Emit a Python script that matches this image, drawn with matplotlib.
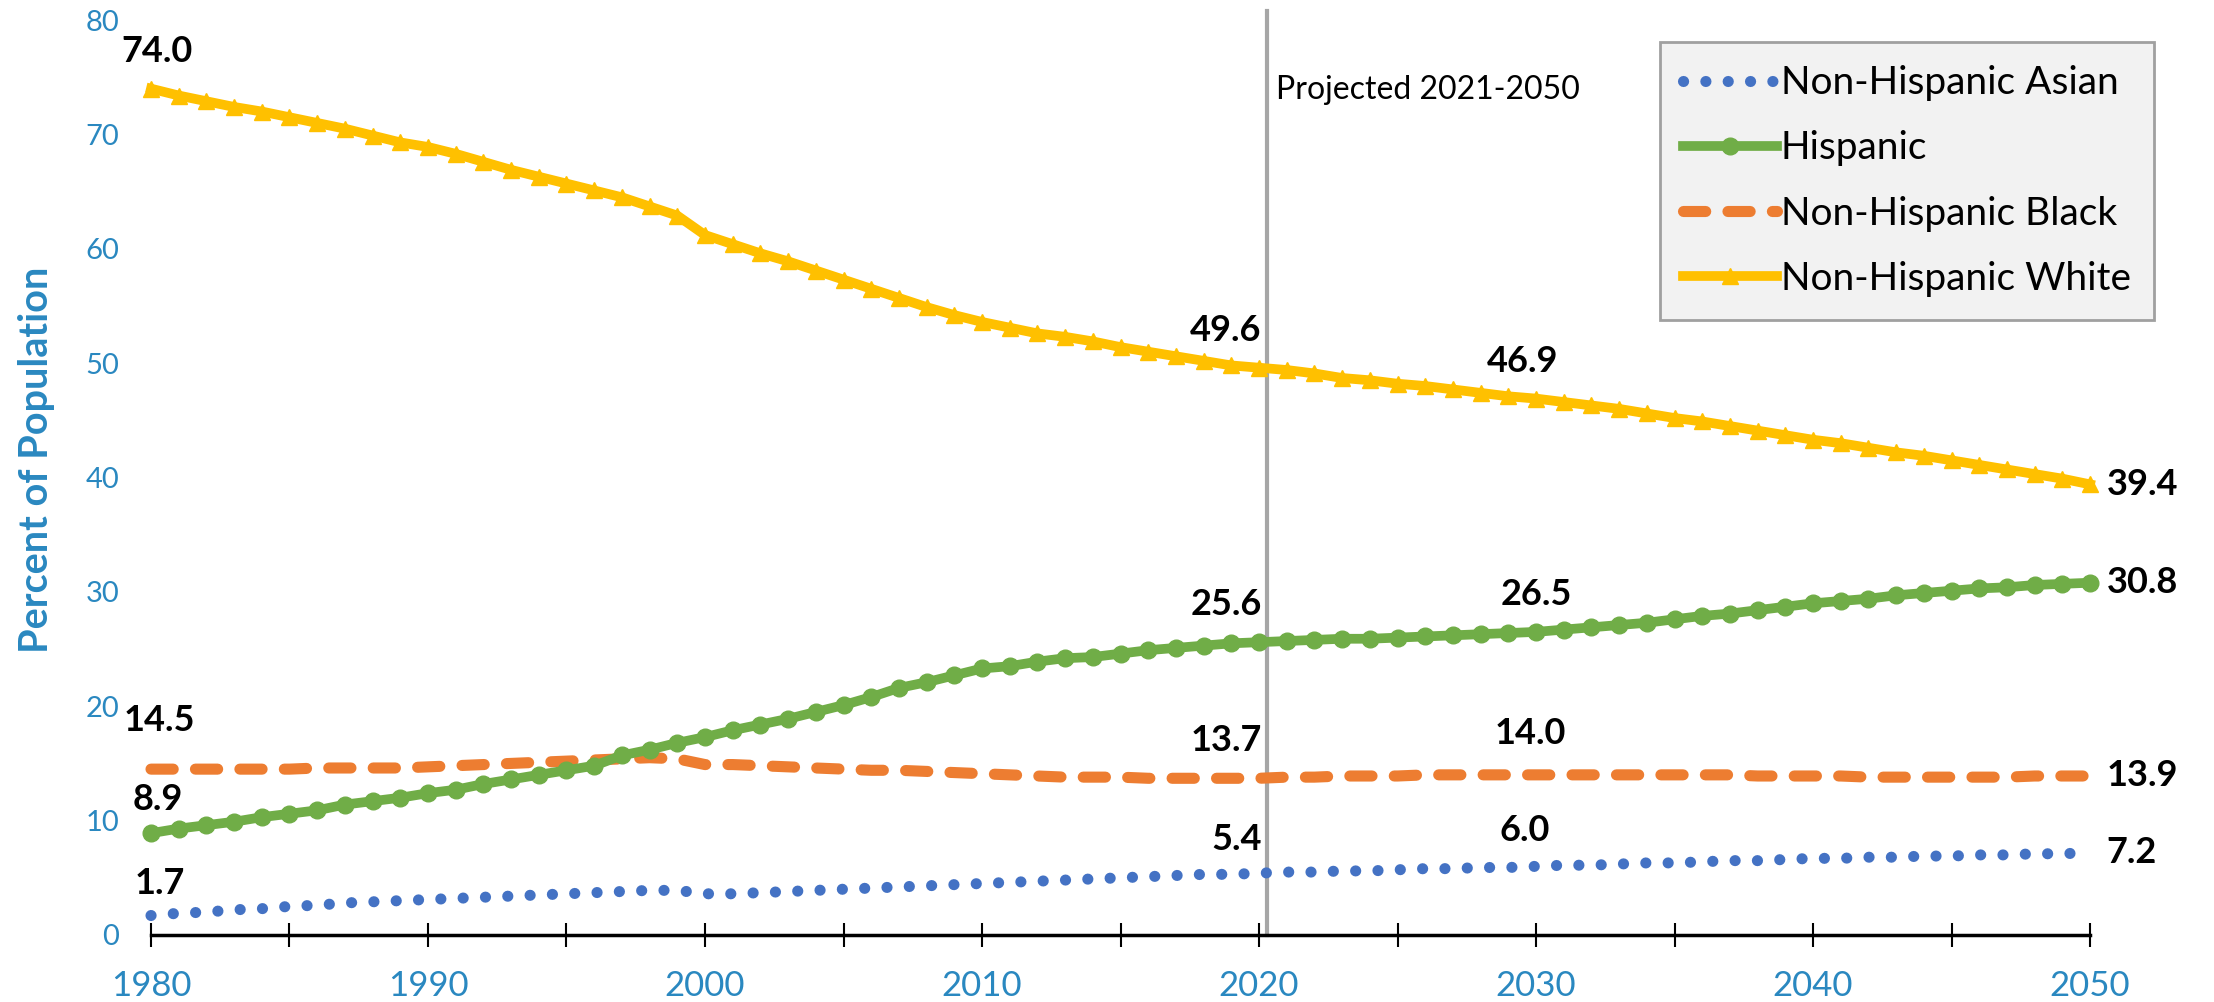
import matplotlib.pyplot as plt

plt.rcParams['font.family'] = ['Lato', 'DejaVu Sans']

# Data (percent of population)
years = list(range(1980, 2051))

asian = [1.7, 1.9, 2.0, 2.2, 2.3, 2.5, 2.6, 2.8, 2.9, 3.0,
         3.1, 3.2, 3.3, 3.4, 3.5, 3.6, 3.7, 3.8, 3.9, 3.9,
         3.6, 3.6, 3.7, 3.8, 3.9, 4.0, 4.1, 4.2, 4.3, 4.4,
         4.5, 4.6, 4.7, 4.8, 4.9, 5.0, 5.1, 5.2, 5.3, 5.3,
         5.4, 5.5, 5.5, 5.6, 5.6, 5.7, 5.8, 5.8, 5.9, 5.9,
         6.0, 6.1, 6.1, 6.2, 6.3, 6.3, 6.4, 6.5, 6.5, 6.6,
         6.7, 6.7, 6.8, 6.8, 6.9, 6.9, 7.0, 7.0, 7.1, 7.1,
         7.2]

hispanic = [8.9, 9.3, 9.6, 9.9, 10.3, 10.6, 10.9, 11.4, 11.7, 12.0,
            12.4, 12.7, 13.2, 13.6, 14.0, 14.4, 14.8, 15.7, 16.2, 16.8,
            17.3, 17.9, 18.4, 18.9, 19.5, 20.1, 20.8, 21.6, 22.1, 22.7,
            23.3, 23.5, 23.9, 24.2, 24.3, 24.6, 24.9, 25.1, 25.3, 25.5,
            25.6, 25.7, 25.8, 25.9, 25.9, 26.0, 26.1, 26.2, 26.3, 26.4,
            26.5, 26.7, 26.9, 27.1, 27.3, 27.6, 27.9, 28.1, 28.4, 28.7,
            29.0, 29.2, 29.4, 29.7, 29.9, 30.1, 30.3, 30.4, 30.6, 30.7,
            30.8]

black = [14.5, 14.5, 14.5, 14.5, 14.5, 14.5, 14.6, 14.6, 14.6, 14.6,
         14.7, 14.8, 14.9, 15.0, 15.1, 15.2, 15.3, 15.4, 15.5, 15.4,
         14.9, 14.9, 14.8, 14.7, 14.6, 14.5, 14.4, 14.4, 14.3, 14.2,
         14.1, 14.0, 13.9, 13.8, 13.8, 13.8, 13.7, 13.7, 13.7, 13.7,
         13.7, 13.8, 13.8, 13.9, 13.9, 13.9, 14.0, 14.0, 14.0, 14.0,
         14.0, 14.0, 14.0, 14.0, 14.0, 14.0, 14.0, 14.0, 13.9, 13.9,
         13.9, 13.9, 13.8, 13.8, 13.8, 13.8, 13.8, 13.8, 13.9, 13.9,
         13.9]

white = [74.0, 73.4, 72.9, 72.4, 72.0, 71.5, 71.0, 70.5, 69.9, 69.3,
         68.9, 68.3, 67.6, 66.9, 66.3, 65.7, 65.1, 64.5, 63.7, 62.9,
         61.2, 60.4, 59.6, 58.9, 58.1, 57.3, 56.5, 55.7, 54.9, 54.2,
         53.6, 53.1, 52.6, 52.3, 51.9, 51.4, 51.0, 50.6, 50.2, 49.8,
         49.6, 49.4, 49.1, 48.7, 48.5, 48.2, 48.0, 47.7, 47.4, 47.1,
         46.9, 46.6, 46.3, 46.0, 45.6, 45.2, 44.9, 44.5, 44.1, 43.7,
         43.3, 43.0, 42.6, 42.2, 41.9, 41.5, 41.1, 40.7, 40.3, 39.9,
         39.4]

label_years = [1980, 2020, 2030, 2050]

blue = '#4472C4'
green = '#70AD47'
orange = '#ED7D31'
gold = '#FFC000'
axis_blue = '#2A88C0'

fig = plt.figure(figsize=(22.14, 10.02), dpi=100)
ax = fig.add_axes([0.0682, 0.0669, 0.8758, 0.9131])

ax.plot(years, asian, color=blue, lw=8, linestyle=(0, (0.01, 2.0)),
        dash_capstyle='round', label='Non-Hispanic Asian', clip_on=False, zorder=3)
ax.plot(years, hispanic, color=green, lw=7, marker='o', markersize=12,
        label='Hispanic', clip_on=False, zorder=4)
ax.plot(years, black, color=orange, lw=8, linestyle=(0, (2.0, 2.0)),
        dash_capstyle='round', label='Non-Hispanic Black', clip_on=False, zorder=3)
ax.plot(years, white, color=gold, lw=7, marker='^', markersize=12,
        label='Non-Hispanic White', clip_on=False, zorder=4)

# Projection divider
ax.axvline(2020.3, ymin=0, ymax=1.01, color='#A6A6A6', lw=3, clip_on=False, zorder=2)
ax.text(2020.6, 73.9, 'Projected 2021-2050', fontsize=23, color='black',
        va='center', ha='left')

# Data labels
series = [asian, hispanic, black, white]
offsets = {
    1980: [(6, 23), (5, 24), (6, 35), (4, 27)],
    2020: [(2, 24), (2, 27), (2, 27), (2, 27)],
    2030: [(-8, 26), (0, 27), (-4, 30), (-10, 27)],
    2050: [(12, 0), (12, 0), (12, 0), (12, 0)],
}
for yr in label_years:
    i = years.index(yr)
    for s, (dx, dy) in zip(series, offsets[yr]):
        if yr == 2020:
            ha = 'right'
        elif yr == 2050:
            ha = 'left'
        else:
            ha = 'center'
        ax.annotate(f'{s[i]:.1f}', (yr, s[i]), xytext=(dx, dy),
                    textcoords='offset points', ha=ha, va='center',
                    fontsize=26, fontweight='bold', color='black', zorder=6)

ax.set_xlim(1980, 2050)
ax.set_ylim(0, 80)
ax.set_xticks(range(1980, 2051, 10))
ax.set_xticks(range(1980, 2051, 5), minor=True)
ax.set_yticks(range(0, 81, 10))

for side in ['top', 'right', 'left']:
    ax.spines[side].set_visible(False)
ax.spines['bottom'].set_linewidth(2.5)
ax.spines['bottom'].set_color('black')

ax.tick_params(axis='x', which='both', direction='inout', length=17, width=1.5,
               color='black')
ax.tick_params(axis='x', which='major', pad=17, labelsize=25, labelcolor=axis_blue)
ax.tick_params(axis='y', length=0, pad=23, labelsize=21, labelcolor=axis_blue)

fig.text(0.0165, 0.541, 'Percent of Population', rotation=90, ha='center',
         va='center', fontsize=28.5, fontweight='bold', color=axis_blue)

leg = ax.legend(loc='upper right', bbox_to_anchor=(2154 / 2214, 1 - 42 / 1002),
                bbox_transform=fig.transFigure, fontsize=28, frameon=True,
                fancybox=False, handlelength=2.4, handletextpad=0.1,
                labelspacing=0.75, borderpad=0.6, borderaxespad=0)
leg.get_frame().set_facecolor('#F2F2F2')
leg.get_frame().set_edgecolor('#A0A0A0')
leg.get_frame().set_linewidth(2)
leg.get_frame().set_alpha(1)

fig.savefig('out.png', dpi=100)
